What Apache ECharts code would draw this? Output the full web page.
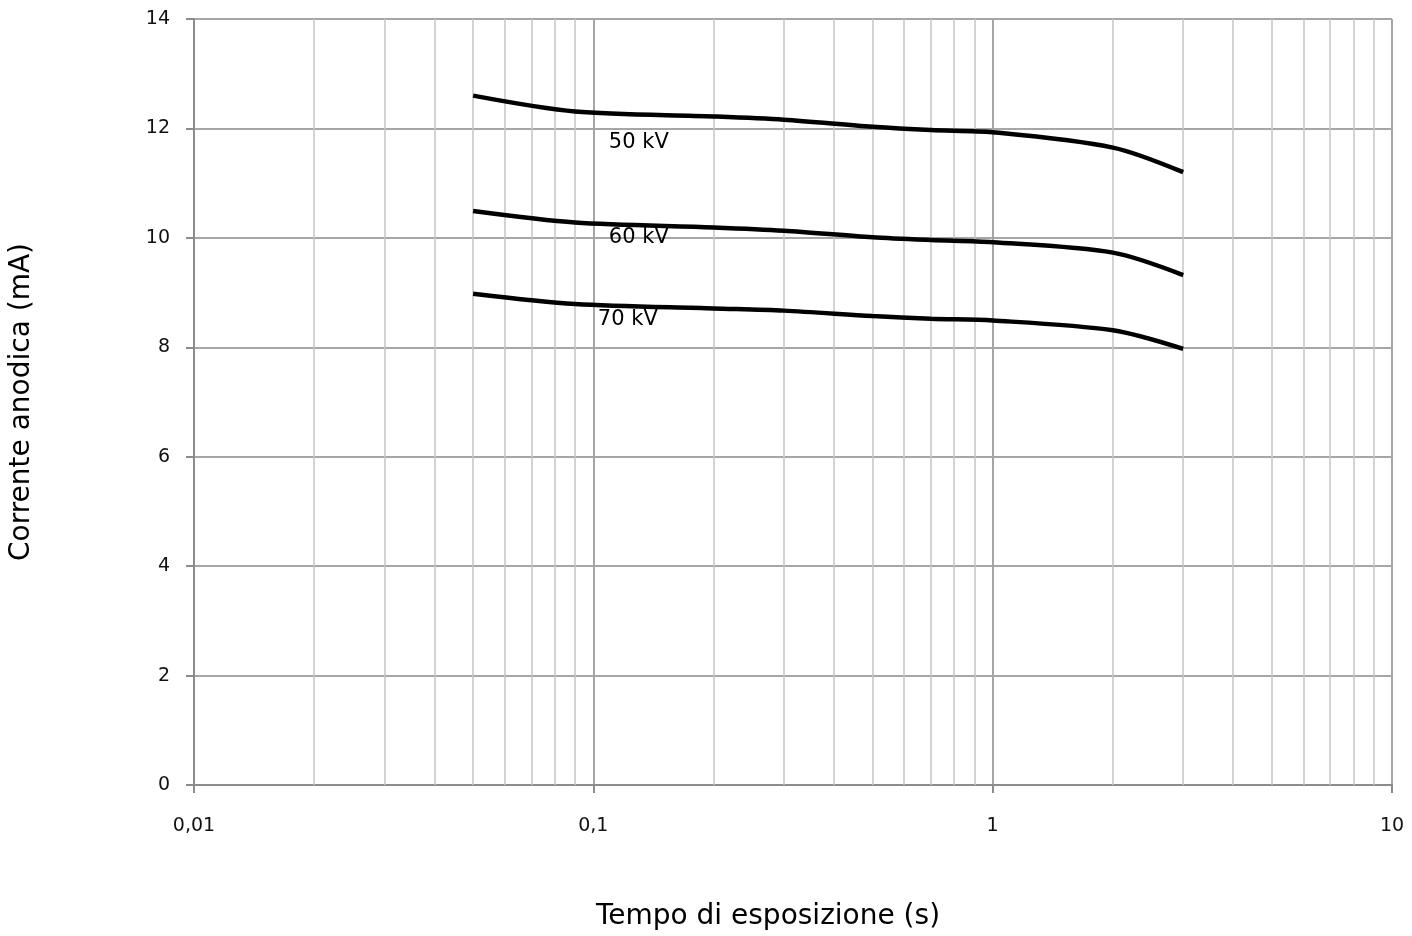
<!DOCTYPE html>
<html><head><meta charset="utf-8">
<script src="https://cdn.jsdelivr.net/npm/echarts@6/dist/echarts.min.js"></script>
<style>html,body{margin:0;padding:0;background:#fff}#c{width:1412px;height:936px}</style>
</head><body><div id="c"></div>
<script>
const times = [0.05, 0.09, 0.2, 0.3, 0.5, 0.7, 1, 2, 3];
const kv50 = [12.60, 12.31, 12.22, 12.16, 12.03, 11.97, 11.93, 11.65, 11.20];
const kv60 = [10.49, 10.28, 10.19, 10.13, 10.01, 9.96, 9.92, 9.73, 9.32];
const kv70 = [8.98, 8.79, 8.71, 8.67, 8.57, 8.52, 8.49, 8.31, 7.97];
const seriesNames = ['50 kV', '60 kV', '70 kV'];
const labelPos = [[0.13, 11.74], [0.13, 10.01], [0.122, 8.50]];
const minorGrid = [0.02,0.03,0.04,0.05,0.06,0.07,0.08,0.09,0.2,0.3,0.4,0.5,0.6,0.7,0.8,0.9,2,3,4,5,6,7,8,9];
const xTitle = 'Tempo di esposizione (s)';
const yTitle = 'Corrente anodica (mA)';

const font = 'DejaVu Sans';
const allData = [kv50, kv60, kv70];
const series = allData.map((vals, i) => ({
  name: seriesNames[i],
  type: 'line',
  smooth: 0.3,
  showSymbol: false,
  symbol: 'none',
  data: times.map((t, j) => [t, vals[j]]),
  lineStyle: {color: '#000', width: 4.5},
  z: 5,
  markPoint: {
    symbol: 'none',
    silent: true,
    data: [{coord: labelPos[i], symbol: 'circle', symbolSize: 0,
      label: {show: true, position: 'inside', formatter: seriesNames[i], color: '#000', fontFamily: font, fontSize: 21}}]
  }
}));
series.push({
  type: 'line', data: [], silent: true,
  markLine: {
    silent: true, symbol: 'none', animation: false,
    label: {show: false},
    lineStyle: {color: '#c4c4c4', width: 1.5, type: 'solid'},
    data: minorGrid.map(v => ({xAxis: v}))
  },
  z: 1
});

const chart = echarts.init(document.getElementById('c'));
chart.setOption({
  animation: false,
  backgroundColor: '#fff',
  grid: {left: 193, right: 20, top: 19, bottom: 148},
  xAxis: {
    type: 'log', logBase: 10, min: 0.01, max: 10,
    name: xTitle, nameLocation: 'middle', nameGap: 118,
    nameTextStyle: {fontFamily: font, fontSize: 28, color: '#000', padding: [0, 50, 0, 0]},
    axisLine: {show: true, lineStyle: {color: '#8c8c8c', width: 2}},
    axisTick: {show: true, length: 8, lineStyle: {color: '#8c8c8c', width: 2}},
    axisLabel: {fontFamily: font, fontSize: 19, color: '#111', margin: 32,
      formatter: v => String(v).replace('.', ',')},
    splitLine: {show: true, lineStyle: {color: '#a6a6a6', width: 2}},
    minorTick: {show: false}, minorSplitLine: {show: false}
  },
  yAxis: {
    type: 'value', min: 0, max: 14, interval: 2,
    name: yTitle, nameLocation: 'middle', nameGap: 158,
    nameTextStyle: {fontFamily: font, fontSize: 28, color: '#000'},
    axisLine: {show: true, lineStyle: {color: '#8c8c8c', width: 2}},
    axisTick: {show: true, length: 8, lineStyle: {color: '#8c8c8c', width: 2}},
    axisLabel: {fontFamily: font, fontSize: 19, color: '#111', margin: 24},
    splitLine: {show: true, lineStyle: {color: '#a6a6a6', width: 2}}
  },
  series: series
});
</script></body></html>
